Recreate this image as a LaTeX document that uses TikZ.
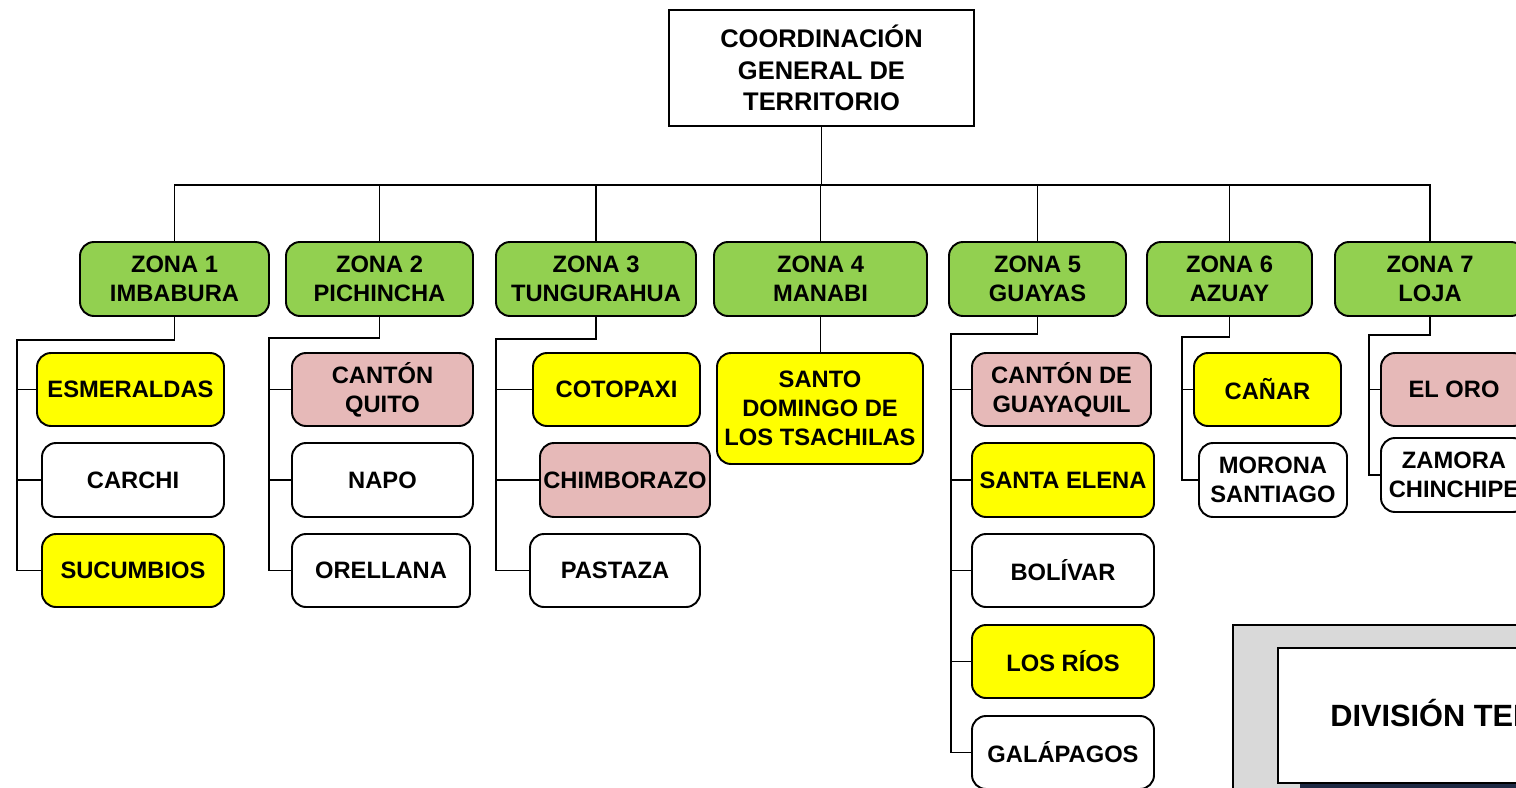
\documentclass[tikz,border=0pt]{standalone}
\usepackage{fontspec}
\setmainfont{Liberation Sans}

\definecolor{zoneGreen}{HTML}{92D050}
\definecolor{provYellow}{HTML}{FFFF00}
\definecolor{cantonPink}{HTML}{E6B9B8}
\definecolor{frameGray}{HTML}{D9D9D9}
\definecolor{bandNavy}{HTML}{1F2B45}

\tikzset{
  sized/.style 2 args={minimum width=#1*0.02cm, minimum height=#2*0.02cm},
  baseBox/.style={draw, line width=1.1pt, rounded corners=0.28cm, align=center,
    inner sep=0pt, font=\fontsize{13.5}{16.4}\selectfont\bfseries},
  headBox/.style={baseBox, rounded corners=0pt, line width=1.4pt,
    font=\fontsize{14.5}{18}\selectfont\bfseries},
  zoneBox/.style={baseBox, fill=zoneGreen},
  provBox/.style={baseBox, fill=provYellow},
  cantonBox/.style={baseBox, fill=cantonPink},
  plainBox/.style={baseBox, fill=white},
  link/.style={line width=1pt}
}

\begin{document}
\begin{tikzpicture}[x=0.02cm, y=-0.02cm]
  \useasboundingbox (0,0) rectangle (1516,788);
  \clip (0,0) rectangle (1516,788);

  % Title frame in the corner
  \fill[frameGray, draw=black, line width=0.8pt] (1233,625) rectangle (1600,820);
  \fill[bandNavy] (1300,783) rectangle (1600,820);
  \draw[fill=white, line width=0.8pt] (1278,648) rectangle (1600,783);
  \node[anchor=west, inner sep=0pt, font=\fontsize{17.5}{20}\selectfont\bfseries] (title) at (1330,713) {DIVISIÓN TERRITORIAL};

  % Head of the chart
  \node[headBox, sized={305}{116}] (head) at (821.5,68) {COORDINACIÓN\\GENERAL DE\\TERRITORIO};

  % Zones
  \node[zoneBox, sized={189}{74}] (z1) at (174.5,279) {ZONA 1\\IMBABURA};
  \node[zoneBox, sized={187}{74}] (z2) at (379.5,279) {ZONA 2\\PICHINCHA};
  \node[zoneBox, sized={200}{74}] (z3) at (596,279) {ZONA 3\\TUNGURAHUA};
  \node[zoneBox, sized={213}{74}] (z4) at (820.5,279) {ZONA 4\\MANABI};
  \node[zoneBox, sized={177}{74}] (z5) at (1037.5,279) {ZONA 5\\GUAYAS};
  \node[zoneBox, sized={165}{74}] (z6) at (1229.5,279) {ZONA 6\\AZUAY};
  \node[zoneBox, sized={190}{74}] (z7) at (1430,279) {ZONA 7\\LOJA};

  % Head to zones
  \coordinate (bus) at (821.5,185);
  \draw[link] (head.south) -- (bus);
  \foreach \z in {z1,z2,z3,z4,z5,z6,z7}
    \draw[link] (bus) -| (\z.north);

  % Zona 1
  \node[provBox, sized={187}{73}] (c11) at (130.5,389.5) {ESMERALDAS};
  \node[plainBox, sized={182}{74}] (c12) at (133,480) {CARCHI};
  \node[provBox, sized={182}{73}] (c13) at (133,570.5) {SUCUMBIOS};
  \coordinate (s1) at (17,340);
  \draw[link] (z1.south) |- (s1) |- (c13.west);
  \foreach \c in {c11,c12}
    \draw[link] (s1 |- \c.west) -- (\c.west);

  % Zona 2
  \node[cantonBox, sized={181}{73}] (c21) at (382.5,389.5) {CANTÓN\\QUITO};
  \node[plainBox, sized={181}{74}] (c22) at (382.5,480) {NAPO};
  \node[plainBox, sized={178}{73}] (c23) at (381,570.5) {ORELLANA};
  \coordinate (s2) at (269,338);
  \draw[link] (z2.south) |- (s2) |- (c23.west);
  \foreach \c in {c21,c22}
    \draw[link] (s2 |- \c.west) -- (\c.west);

  % Zona 3
  \node[provBox, sized={167}{73}] (c31) at (616.5,389.5) {COTOPAXI};
  \node[cantonBox, sized={170}{74}] (c32) at (625,480) {CHIMBORAZO};
  \node[plainBox, sized={170}{73}] (c33) at (615,570.5) {PASTAZA};
  \coordinate (s3) at (496,339);
  \draw[link] (z3.south) |- (s3) |- (c33.west);
  \foreach \c in {c31,c32}
    \draw[link] (s3 |- \c.west) -- (\c.west);

  % Zona 4
  \node[provBox, sized={206}{111}] (c41) at (820,408.5) {SANTO\\DOMINGO DE\\LOS TSACHILAS};
  \draw[link] (z4.south) -- (z4.south |- c41.north);

  % Zona 5
  \node[cantonBox, sized={179}{73}] (c51) at (1061.5,389.5) {CANTÓN DE\\GUAYAQUIL};
  \node[provBox, sized={182}{74}] (c52) at (1063,480) {SANTA ELENA};
  \node[plainBox, sized={182}{73}] (c53) at (1063,570.5) {BOLÍVAR};
  \node[provBox, sized={182}{73}] (c54) at (1063,661.5) {LOS RÍOS};
  \node[plainBox, sized={182}{73}] (c55) at (1063,752.5) {GALÁPAGOS};
  \coordinate (s5) at (951,334);
  \draw[link] (z5.south) |- (s5) |- (c55.west);
  \foreach \c in {c51,c52,c53,c54}
    \draw[link] (s5 |- \c.west) -- (\c.west);

  % Zona 6
  \node[provBox, sized={147}{73}] (c61) at (1267.5,389.5) {CAÑAR};
  \node[plainBox, sized={148}{74}] (c62) at (1273,480) {MORONA\\SANTIAGO};
  \coordinate (s6) at (1182,337);
  \draw[link] (z6.south) |- (s6) |- (c62.west);
  \draw[link] (s6 |- c61.west) -- (c61.west);

  % Zona 7
  \node[cantonBox, sized={146}{73}] (c71) at (1454,389.5) {EL ORO};
  \node[plainBox, sized={146}{74}] (c72) at (1454,475) {ZAMORA\\CHINCHIPE};
  \coordinate (s7) at (1369,335);
  \draw[link] (z7.south) |- (s7) |- (c72.west);
  \draw[link] (s7 |- c71.west) -- (c71.west);
\end{tikzpicture}
\end{document}
